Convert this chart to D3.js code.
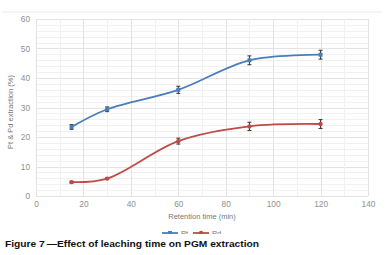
<!DOCTYPE html>
<html><head><meta charset="utf-8">
<script src="https://cdn.jsdelivr.net/npm/d3@7"></script>
<style>body{margin:0;background:#fff}svg{display:block}</style>
</head><body>
<script>
const times = [15, 30, 60, 90, 120];
const ptValues = [23.4, 29.4, 36.0, 46.0, 47.9];
const ptErrors = [0.8, 0.8, 1.2, 1.5, 1.5];
const pdValues = [4.7, 5.9, 18.6, 23.6, 24.4];
const pdErrors = [0.3, 0.3, 1.0, 1.4, 1.5];
const xTicks = [0, 20, 40, 60, 80, 100, 120, 140];
const yTicks = [0, 10, 20, 30, 40, 50, 60];
const seriesNames = ["Pt", "Pd"];
const colors = ["#4a7ebb", "#be4b48"];

const W = 387, H = 255;
const svg = d3.select("body").append("svg").attr("width", W).attr("height", H);
const x = d3.scaleLinear().domain([0, 140]).range([36, 368]);
const y = d3.scaleLinear().domain([0, 60]).range([196, 19]);
const font = "Liberation Sans, Arial, sans-serif";

svg.append("line").attr("x1", 3).attr("x2", 381).attr("y1", 12).attr("y2", 12)
  .attr("stroke", "#ebebeb").attr("stroke-width", 1);

const g = svg.append("g");
g.selectAll(".hm").data(d3.range(0, 61, 2)).join("line")
  .attr("x1", x(0)).attr("x2", x(140))
  .attr("y1", d => Math.round(y(d)) + 0.5).attr("y2", d => Math.round(y(d)) + 0.5)
  .attr("stroke", d => d % 10 === 0 ? "#e3e3e3" : "#f1f1f1").attr("stroke-width", 1);
g.selectAll(".vm").data(d3.range(0, 141, 10)).join("line")
  .attr("y1", y(0)).attr("y2", y(60))
  .attr("x1", d => Math.round(x(d)) + 0.5).attr("x2", d => Math.round(x(d)) + 0.5)
  .attr("stroke", d => d % 20 === 0 ? "#e3e3e3" : "#f1f1f1").attr("stroke-width", 1);

const yAxis = d3.axisLeft(y).tickValues(yTicks).tickSize(0).tickPadding(0);
const ya = svg.append("g").attr("transform", "translate(30,0)").call(yAxis);
ya.select(".domain").remove();
ya.selectAll("text").attr("font-family", font).attr("font-size", 8.3).attr("fill", "#8f8f8f");

const xAxis = d3.axisBottom(x).tickValues(xTicks).tickSize(0).tickPadding(0);
const xa = svg.append("g").attr("transform", "translate(0,201)").call(xAxis);
xa.select(".domain").remove();
xa.selectAll("text").attr("font-family", font).attr("font-size", 8.3).attr("fill", "#8f8f8f");

svg.append("text").attr("x", 202).attr("y", 219).attr("text-anchor", "middle")
  .attr("font-family", font).attr("font-size", 7.5).attr("fill", "#777").text("Retention time (min)");
svg.append("text").attr("transform", "translate(13,112) rotate(-90)").attr("text-anchor", "middle")
  .attr("font-family", font).attr("font-size", 7.5).attr("fill", "#777").text("Pt & Pd extraction (%)");

const series = [
  {name: seriesNames[0], values: ptValues, errors: ptErrors, color: colors[0], shape: "square"},
  {name: seriesNames[1], values: pdValues, errors: pdErrors, color: colors[1], shape: "circle"}
];
const line = d3.line().x(d => x(d[0])).y(d => y(d[1])).curve(d3.curveCatmullRom.alpha(0.5));

series.forEach(s => {
  const pts = times.map((t, i) => [t, s.values[i], s.errors[i]]);
  svg.append("path").attr("d", line(pts)).attr("fill", "none")
    .attr("stroke", s.color).attr("stroke-width", 1.8);
  pts.forEach(p => {
    const cx = x(p[0]);
    svg.append("line").attr("x1", cx).attr("x2", cx).attr("y1", y(p[1] - p[2])).attr("y2", y(p[1] + p[2]))
      .attr("stroke", "#333").attr("stroke-width", 1);
    [p[1] - p[2], p[1] + p[2]].forEach(v => svg.append("line").attr("x1", cx - 2).attr("x2", cx + 2)
      .attr("y1", y(v)).attr("y2", y(v)).attr("stroke", "#333").attr("stroke-width", 1));
    if (s.shape === "square") svg.append("rect").attr("x", cx - 2).attr("y", y(p[1]) - 2)
      .attr("width", 4).attr("height", 4).attr("fill", s.color);
    else svg.append("circle").attr("cx", cx).attr("cy", y(p[1])).attr("r", 2.2).attr("fill", s.color);
  });
});

svg.append("clipPath").attr("id", "lc").append("rect").attr("x", 0).attr("y", 226).attr("width", W).attr("height", 8);
const lg = svg.append("g").attr("clip-path", "url(#lc)");
const lx = [162, 193];
series.forEach((s, i) => {
  lg.append("line").attr("x1", lx[i]).attr("x2", lx[i] + 16).attr("y1", 233).attr("y2", 233)
    .attr("stroke", s.color).attr("stroke-width", 1.8);
  if (s.shape === "square") lg.append("rect").attr("x", lx[i] + 6).attr("y", 231).attr("width", 4).attr("height", 4).attr("fill", s.color);
  else lg.append("circle").attr("cx", lx[i] + 8).attr("cy", 233).attr("r", 2.2).attr("fill", s.color);
  lg.append("text").attr("x", lx[i] + 19).attr("y", 236).attr("font-family", font).attr("font-size", 7.5)
    .attr("fill", "#777").text(s.name);
});

svg.append("text").attr("x", 5).attr("y", 246.5).attr("font-family", font).attr("font-size", 9.6)
  .attr("font-weight", "bold").attr("fill", "#111").attr("textLength", 254).attr("lengthAdjust", "spacingAndGlyphs")
  .text("Figure 7\u2009\u2014Effect of leaching time on PGM extraction");
</script>
</body></html>
